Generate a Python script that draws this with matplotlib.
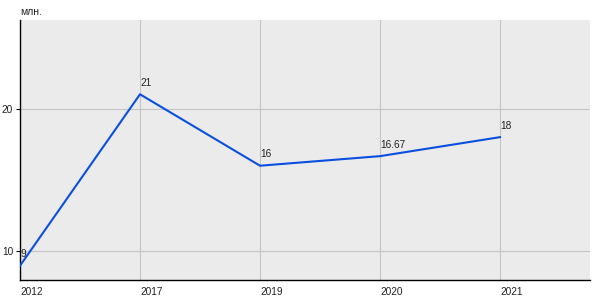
import matplotlib
matplotlib.use("Agg")
import matplotlib.pyplot as plt

years = ["2012", "2017", "2019", "2020", "2021"]
values = [9, 21, 16, 16.67, 18]
labels = ["9", "21", "16", "16.67", "18"]

plt.rcParams['font.family'] = ['Liberation Sans', 'DejaVu Sans']

fig = plt.figure(figsize=(6, 3), dpi=100)
ax = fig.add_axes([20 / 600, 20 / 300, 570 / 600, 260 / 300])
ax.set_facecolor('#ebebeb')

x = list(range(len(years)))
ax.plot(x, values, color='#0a4fe0', linewidth=1.5, zorder=3)

for xi, v, lab in zip(x, values, labels):
    ax.annotate(lab, (xi, v), xytext=(0.5, 4.5), textcoords='offset points',
                fontsize=7.3, color='#222222', ha='left', va='bottom', zorder=4)

ax.set_xlim(0, 4.75)
ax.set_ylim(8, 26.2)
ax.set_xticks(x)
ax.set_xticklabels(years, ha='left')
ax.set_yticks([10, 20])
ax.tick_params(axis='x', length=0, pad=5, labelsize=7.3, colors='#222222')
ax.tick_params(axis='y', length=3, width=0.8, pad=2, labelsize=7.3, colors='#222222')
ax.tick_params(axis='y', color='black')

ax.grid(True, color='#c4c4c4', linewidth=0.8)
ax.set_axisbelow(True)
for side in ['top', 'right']:
    ax.spines[side].set_visible(False)
ax.spines['left'].set_color('black')
ax.spines['bottom'].set_color('black')
ax.spines['left'].set_linewidth(1)
ax.spines['bottom'].set_linewidth(1)

fig.text(20 / 600, 1 - 12 / 300, "млн.", fontsize=7.5, color='#222222', ha='left', va='center')

fig.savefig("out.png", dpi=100)
